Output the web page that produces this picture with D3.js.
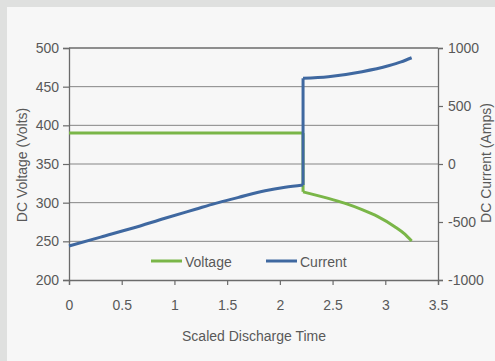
<!DOCTYPE html>
<html><head><meta charset="utf-8">
<script src="https://cdn.jsdelivr.net/npm/d3@7"></script>
<style>
html,body{margin:0;padding:0;background:#dfe0df;}
svg{display:block;}
text{font-family:"Liberation Sans",Arial,Helvetica,sans-serif;fill:#595959;}
</style></head><body>
<script>
const voltageT = [0, 2.22, 2.22, 2.46, 2.62, 2.78, 2.93, 3.09, 3.18, 3.25];
const voltageV = [390, 390, 314, 305.6, 299, 291, 282, 269, 260, 250.5];
const currentT = [0, 0.3, 0.6, 0.91, 1.2, 1.39, 1.6, 1.86, 2.05, 2.22, 2.22, 2.46, 2.78, 3.03, 3.15, 3.25];
const currentA = [-707, -630, -554, -468, -390, -339, -290, -230, -200, -181, 739, 753, 796, 847, 880, 916];
const xTicks = [0, 0.5, 1, 1.5, 2, 2.5, 3, 3.5];
const yLeftTicks = [200, 250, 300, 350, 400, 450, 500];
const yRightTicks = [-1000, -500, 0, 500, 1000];
const seriesNames = ["Voltage", "Current"];
const seriesColors = ["#7ab648", "#3f68a0"];

const W = 495, H = 361;
const L = 69, R = 438, T = 48, B = 280;

const svg = d3.select("body").append("svg").attr("width", W).attr("height", H);
svg.append("rect").attr("x", 7).attr("y", 7).attr("width", W - 7).attr("height", H - 7).attr("fill", "#f7f7f7");

const x = d3.scaleLinear().domain([0, 3.5]).range([L, R]);
const yL = d3.scaleLinear().domain([200, 500]).range([B, T]);
const yR = d3.scaleLinear().domain([-1000, 1000]).range([B, T]);

// gridlines
svg.append("g").selectAll("line").data(yLeftTicks.filter(d => d > 200 && d < 500)).join("line")
  .attr("x1", L).attr("x2", R).attr("y1", d => yL(d)).attr("y2", d => yL(d))
  .attr("stroke", "#858585").attr("stroke-width", 1);
svg.append("line").attr("x1", L).attr("x2", R).attr("y1", T).attr("y2", T)
  .attr("stroke", "#6b6b6b").attr("stroke-width", 1.3);

function styleAxis(g) {
  g.selectAll(".domain").attr("stroke", "#6b6b6b").attr("stroke-width", 1.3);
  g.selectAll(".tick line").attr("stroke", "#6b6b6b").attr("stroke-width", 1.2);
  g.selectAll(".tick text").style("font-size", "14px").attr("fill", "#595959")
    .style("font-family", "'Liberation Sans',Arial,sans-serif");
}
const fmt = d => String(d);

const gx = svg.append("g").attr("transform", `translate(0,${B})`)
  .call(d3.axisBottom(x).tickValues(xTicks).tickFormat(fmt).tickSizeOuter(0).tickSize(5).tickPadding(15));
styleAxis(gx);
const gl = svg.append("g").attr("transform", `translate(${L},0)`)
  .call(d3.axisLeft(yL).tickValues(yLeftTicks).tickFormat(fmt).tickSizeOuter(0).tickSize(6).tickPadding(4));
styleAxis(gl);
const gr = svg.append("g").attr("transform", `translate(${R},0)`)
  .call(d3.axisRight(yR).tickValues(yRightTicks).tickFormat(fmt).tickSizeOuter(0).tickSize(5).tickPadding(5));
styleAxis(gr);

// lines
const vData = voltageT.map((t, i) => [t, voltageV[i]]);
const cData = currentT.map((t, i) => [t, currentA[i]]);
const lineV = d3.line().x(d => x(d[0])).y(d => yL(d[1])).curve(d3.curveMonotoneX);
const lineC = d3.line().x(d => x(d[0])).y(d => yR(d[1])).curve(d3.curveMonotoneX);

function segs(data) {
  const out = [];
  let cur = [data[0]];
  for (let i = 1; i < data.length; i++) {
    if (data[i][0] === data[i - 1][0]) { out.push(cur); out.push([data[i - 1], data[i]]); cur = [data[i]]; }
    else cur.push(data[i]);
  }
  out.push(cur);
  return out;
}
const straight = d3.line();
function drawSeries(data, line, yScale, color) {
  const g = svg.append("g");
  segs(data).forEach(s => {
    if (s.length < 2) return;
    const isVert = s.length === 2 && s[0][0] === s[1][0];
    g.append("path").attr("d", isVert ? straight(s.map(d => [x(d[0]), yScale(d[1])])) : line(s))
      .attr("fill", "none").attr("stroke", color).attr("stroke-width", 3)
      .attr("stroke-linejoin", "miter").attr("stroke-linecap", "butt");
  });
}
drawSeries(vData, lineV, yL, seriesColors[0]);
drawSeries(cData, lineC, yR, seriesColors[1]);

// legend
const legX = [151, 266];
seriesNames.forEach((n, i) => {
  svg.append("line").attr("x1", legX[i]).attr("x2", legX[i] + 31).attr("y1", 261).attr("y2", 261)
    .attr("stroke", seriesColors[i]).attr("stroke-width", 3);
  svg.append("text").attr("x", legX[i] + 34).attr("y", 266.5).style("font-size", "14px").text(n);
});

// axis titles
svg.append("text").attr("x", (L + R) / 2 + 0.5).attr("y", 341).attr("text-anchor", "middle")
  .style("font-size", "14px").text("Scaled Discharge Time");
svg.append("text").attr("transform", "translate(27,165) rotate(-90)").attr("text-anchor", "middle")
  .style("font-size", "14px").text("DC Voltage (Volts)");
svg.append("text").attr("transform", "translate(491,163) rotate(-90)").attr("text-anchor", "middle")
  .style("font-size", "14px").text("DC Current (Amps)");
</script>
</body></html>
